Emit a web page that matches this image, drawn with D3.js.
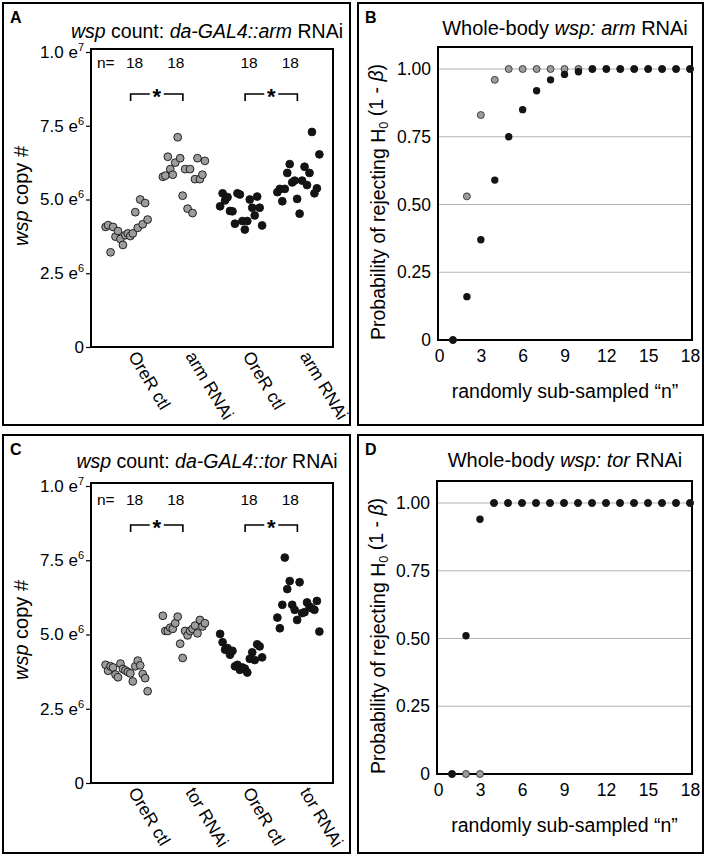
<!DOCTYPE html>
<html>
<head>
<meta charset="utf-8">
<script src="https://cdn.jsdelivr.net/npm/d3@7"></script>
<style>
body { margin: 0; background: #fff; }
svg { display: block; font-family: "Liberation Sans", Arial, Helvetica, sans-serif; }
</style>
</head>
<body>
<svg id="fig" width="708" height="863"></svg>
<script>
// ---- data (wsp copies in millions, left-to-right order) ----
const groupKeys = ['g1', 'g2', 'g3', 'g4'];
const armLabels = ['OreR ctl', 'arm RNAi', 'OreR ctl', 'arm RNAi'];
const torLabels = ['OreR ctl', 'tor RNAi', 'OreR ctl', 'tor RNAi'];
const nCounts = ['18', '18', '18', '18'];

const armCtlGrey = [4.07, 4.13, 3.21, 4.07, 3.74, 3.93, 3.66, 3.46, 3.79, 3.85, 3.76, 3.85, 4.57, 4.04, 5.00, 4.16, 4.88, 4.32];
const armRnaiGrey = [5.77, 5.81, 6.45, 6.03, 5.84, 6.25, 7.11, 6.40, 5.13, 6.03, 4.69, 6.03, 4.54, 5.69, 6.40, 5.69, 5.84, 6.31];
const armCtlBlack = [4.77, 5.21, 4.97, 5.08, 4.61, 4.60, 4.18, 5.21, 5.17, 4.27, 3.98, 4.27, 5.00, 4.72, 4.46, 5.10, 4.72, 4.12];
const armRnaiBlack = [5.25, 5.36, 4.94, 5.36, 5.90, 6.20, 5.58, 5.64, 5.02, 4.52, 5.64, 6.11, 5.49, 5.90, 7.29, 5.21, 5.38, 6.53];

const torCtlGrey = [3.98, 3.78, 3.93, 3.89, 3.65, 3.56, 4.02, 3.84, 3.79, 3.74, 3.69, 3.42, 3.93, 4.12, 3.96, 3.67, 3.53, 3.09];
const torRnaiGrey = [5.63, 5.12, 5.12, 5.23, 5.19, 5.38, 5.60, 4.69, 4.21, 5.12, 4.97, 5.12, 5.19, 5.30, 5.04, 5.49, 5.27, 5.38];
const torCtlBlack = [5.02, 4.74, 4.49, 4.54, 4.32, 4.45, 3.93, 3.98, 3.81, 3.89, 3.85, 3.72, 4.18, 4.40, 4.14, 4.67, 4.60, 4.23];
const torRnaiBlack = [5.57, 5.21, 6.00, 7.59, 6.53, 6.80, 6.00, 5.83, 5.49, 6.76, 5.72, 5.75, 6.08, 5.94, 5.88, 5.83, 6.13, 5.10];

const countTicks = [0, 2.5, 5, 7.5, 10];
const countTickBase = ['0', '2.5 e', '5.0 e', '7.5 e', '1.0 e'];
const countTickExp = ['', '6', '6', '6', '7'];

// power curves: probability of rejecting H0 per sub-sampled n
const subN = [1, 2, 3, 4, 5, 6, 7, 8, 9, 10, 11, 12, 13, 14, 15, 16, 17, 18];
const armPowerGrey = [0, 0.53, 0.83, 0.96, 1, 1, 1, 1, 1, 1, 1, 1, 1, 1, 1, 1, 1, 1];
const armPowerBlack = [0, 0.16, 0.37, 0.59, 0.75, 0.85, 0.92, 0.96, 0.98, 0.99, 1, 1, 1, 1, 1, 1, 1, 1];
const torPowerGrey = [0, 0, 0, 1, 1, 1, 1, 1, 1, 1, 1, 1, 1, 1, 1, 1, 1, 1];
const torPowerBlack = [0, 0.51, 0.94, 1, 1, 1, 1, 1, 1, 1, 1, 1, 1, 1, 1, 1, 1, 1];
const powerTicks = [0, 0.25, 0.5, 0.75, 1];
const powerTickLabels = ['0', '0.25', '0.50', '0.75', '1.00'];
const nTicks = [0, 3, 6, 9, 12, 15, 18];

const GREY = '#9c9c9c';
const BLACK = '#141414';

const svg = d3.select('#fig');

// writes a list of {t, i, sub} parts into a text element
function richText(sel, parts) {
	parts.forEach((p) => {
		const ts = sel.append('tspan').text(p.t);
		if (p.i) ts.attr('font-style', 'italic');
		if (p.sub) ts.attr('font-size', '0.65em').attr('dy', '0.25em');
		if (p.after) ts.attr('dy', '-0.25em');
	});
	return sel;
}

function panelBox(box, letter) {
	svg.append('rect')
		.attr('x', box[0]).attr('y', box[1])
		.attr('width', box[2]).attr('height', box[3])
		.attr('fill', 'none').attr('stroke', '#000').attr('stroke-width', 2);
	svg.append('text')
		.attr('x', box[0] + 7).attr('y', box[1] + 20)
		.attr('font-size', 16).attr('font-weight', 'bold')
		.text(letter);
}

// ---------------- swarm panels (A, C) ----------------
function swarmPanel(p) {
	panelBox(p.box, p.letter);
	const g = svg.append('g');

	richText(g.append('text').attr('x', 207).attr('y', p.titleY)
		.attr('text-anchor', 'middle').attr('font-size', 19.5), p.title);

	const x = d3.scaleBand().domain(groupKeys).range([p.left + 7, p.right - 6]);
	const jitter = d3.scalePoint().domain(d3.range(18)).range([-21, 21]);
	const y = d3.scaleLinear().domain([0, 10]).range([p.bottom, p.top + 3]);
	const cx = (k) => x(k) + x.bandwidth() / 2;

	// y axis
	const ax = g.append('g')
		.attr('transform', `translate(${p.left},0)`)
		.call(d3.axisLeft(y).tickValues(countTicks).tickSize(5).tickPadding(2));
	ax.select('.domain').remove();
	ax.selectAll('.tick line').attr('stroke', '#000').attr('stroke-width', 1.2);
	ax.selectAll('.tick text')
		.attr('font-size', 17).attr('font-family', null).attr('fill', '#000')
		.each(function (d, i) {
			const t = d3.select(this).text(null);
			t.append('tspan').text(countTickBase[i]);
			if (countTickExp[i]) t.append('tspan').attr('dy', -7).attr('font-size', 11).text(countTickExp[i]);
		});

	richText(g.append('text')
		.attr('transform', `translate(28,${p.ylabelY}) rotate(-90)`)
		.attr('text-anchor', 'middle').attr('font-size', 20),
		[{ t: 'wsp', i: true }, { t: ' copy #' }]);

	// dots
	p.series.forEach((vals, gi) => {
		const key = groupKeys[gi];
		g.append('g').selectAll('circle')
			.data(vals)
			.join('circle')
			.attr('cx', (d, i) => cx(key) + jitter(i))
			.attr('cy', (d) => y(d))
			.attr('r', 3.9)
			.attr('fill', gi < 2 ? GREY : BLACK)
			.attr('stroke', '#111')
			.attr('stroke-width', 0.9);
	});

	// frame
	g.append('rect')
		.attr('x', p.left).attr('y', p.top)
		.attr('width', p.right - p.left).attr('height', p.bottom - p.top)
		.attr('fill', 'none').attr('stroke', '#000').attr('stroke-width', 2);

	// n counts
	g.append('text').attr('x', p.left + 6).attr('y', p.nY).attr('font-size', 15.5).text('n=');
	g.selectAll('.ncount')
		.data(nCounts)
		.join('text')
		.attr('x', (d, i) => cx(groupKeys[i]) + (i % 2 === 0 ? 8 : -8))
		.attr('y', p.nY)
		.attr('text-anchor', 'middle').attr('font-size', 15.5)
		.text((d) => d);

	// significance brackets
	[[0, 1], [2, 3]].forEach(([a, b]) => {
		const x1 = cx(groupKeys[a]) + 4;
		const x2 = cx(groupKeys[b]) - 1;
		const mid = (x1 + x2) / 2;
		const by = p.bracketY;
		g.append('path')
			.attr('d', `M${x1},${by + 7}V${by}H${mid - 7}M${mid + 7},${by}H${x2}V${by + 7}`)
			.attr('fill', 'none').attr('stroke', '#000').attr('stroke-width', 1.6);
		g.append('text').attr('x', mid).attr('y', by + 10)
			.attr('text-anchor', 'middle').attr('font-size', 22).attr('font-weight', 'bold').text('*');
	});

	// category labels
	g.selectAll('.cat')
		.data(p.labels)
		.join('text')
		.attr('transform', (d, i) => `translate(${cx(groupKeys[i]) + 1},${p.bottom + 9}) rotate(59)`)
		.attr('font-size', 17.5)
		.text((d) => d);
}

// ---------------- power panels (B, D) ----------------
function powerPanel(p) {
	panelBox(p.box, p.letter);
	const g = svg.append('g');

	richText(g.append('text').attr('x', 565).attr('y', p.titleY)
		.attr('text-anchor', 'middle').attr('font-size', 20), p.title);

	const x = d3.scaleLinear().domain([0, 18]).range([p.left + 1, p.right - 2]);
	const y = d3.scaleLinear().domain([0, 1]).range([p.bottom, p.y1]);

	// grid
	g.append('g').selectAll('line')
		.data(powerTicks.slice(1))
		.join('line')
		.attr('x1', p.left).attr('x2', p.right)
		.attr('y1', (d) => y(d)).attr('y2', (d) => y(d))
		.attr('stroke', '#b4b4b4').attr('stroke-width', 1.2);

	const ay = g.append('g')
		.attr('transform', `translate(${p.left},0)`)
		.call(d3.axisLeft(y).tickValues(powerTicks).tickSize(0).tickPadding(7)
			.tickFormat((d, i) => powerTickLabels[i]));
	const ax = g.append('g')
		.attr('transform', `translate(0,${p.bottom})`)
		.call(d3.axisBottom(x).tickValues(nTicks).tickSize(0).tickPadding(10));
	[ax, ay].forEach((a) => {
		a.select('.domain').remove();
		a.selectAll('.tick text').attr('font-size', 17.5).attr('fill', '#000');
	});

	g.append('rect')
		.attr('x', p.left).attr('y', p.top)
		.attr('width', p.right - p.left).attr('height', p.bottom - p.top)
		.attr('fill', 'none').attr('stroke', '#000').attr('stroke-width', 2);

	g.append('g').selectAll('circle')
		.data(p.grey)
		.join('circle')
		.attr('cx', (d, i) => x(subN[i]))
		.attr('cy', (d) => y(d))
		.attr('r', 3.5)
		.attr('fill', GREY).attr('stroke', '#222').attr('stroke-width', 0.8);
	g.append('g').selectAll('circle')
		.data(p.black)
		.join('circle')
		.attr('cx', (d, i) => x(subN[i]))
		.attr('cy', (d) => y(d))
		.attr('r', 3.7)
		.attr('fill', BLACK);

	g.append('text')
		.attr('x', (p.left + p.right) / 2).attr('y', p.bottom + 58)
		.attr('text-anchor', 'middle').attr('font-size', 19.5)
		.text('randomly sub-sampled \u201cn\u201d');

	richText(g.append('text')
		.attr('transform', `translate(385,${p.ylabelY}) rotate(-90)`)
		.attr('text-anchor', 'middle').attr('font-size', 19.5),
		[{ t: 'Probability of rejecting H' }, { t: '0', sub: true }, { t: ' (1 - ', after: true }, { t: '\u03b2', i: true }, { t: ')' }]);
}

swarmPanel({
	letter: 'A', box: [3, 3, 347, 422],
	title: [{ t: 'wsp', i: true }, { t: ' count: ' }, { t: 'da-GAL4::arm', i: true }, { t: ' RNAi' }],
	titleY: 38, left: 91, right: 333, top: 49, bottom: 347,
	ylabelY: 196, nY: 68, bracketY: 94,
	labels: armLabels,
	series: [armCtlGrey, armRnaiGrey, armCtlBlack, armRnaiBlack]
});

swarmPanel({
	letter: 'C', box: [3, 435, 347, 418],
	title: [{ t: 'wsp', i: true }, { t: ' count: ' }, { t: 'da-GAL4::tor', i: true }, { t: ' RNAi' }],
	titleY: 468, left: 91, right: 333, top: 483, bottom: 783,
	ylabelY: 630, nY: 505, bracketY: 525,
	labels: torLabels,
	series: [torCtlGrey, torRnaiGrey, torCtlBlack, torRnaiBlack]
});

powerPanel({
	letter: 'B', box: [358, 3, 345, 422],
	title: [{ t: 'Whole-body ' }, { t: 'wsp: arm', i: true }, { t: ' RNAi' }],
	titleY: 35, left: 438, right: 692, top: 47, bottom: 340, y1: 69,
	ylabelY: 202,
	grey: armPowerGrey, black: armPowerBlack
});

powerPanel({
	letter: 'D', box: [358, 435, 345, 418],
	title: [{ t: 'Whole-body ' }, { t: 'wsp: tor', i: true }, { t: ' RNAi' }],
	titleY: 467, left: 437, right: 692, top: 481, bottom: 774, y1: 503,
	ylabelY: 636,
	grey: torPowerGrey, black: torPowerBlack
});
</script>
</body>
</html>
